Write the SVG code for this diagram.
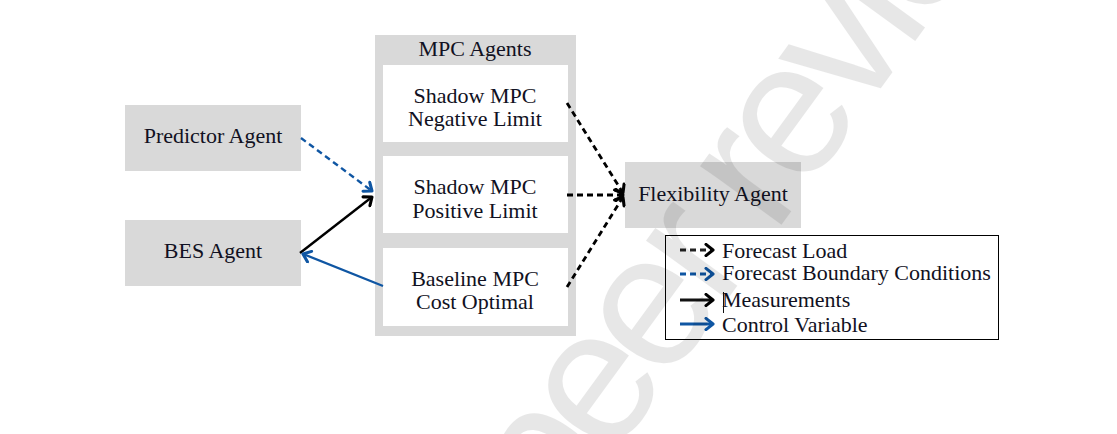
<svg xmlns="http://www.w3.org/2000/svg" width="1117" height="434" viewBox="0 0 1117 434">
  <style>
    .box { fill: #d9d9d9; }
    .inner { fill: #ffffff; }
    .lbl { font-family: "Liberation Serif", "Times New Roman", serif; font-size: 22px; fill: #111122; text-anchor: middle; }
    .leg { font-family: "Liberation Serif", "Times New Roman", serif; font-size: 22px; fill: #111122; }
    .wm { font-family: "Liberation Sans", Arial, sans-serif; font-size: 190px; letter-spacing: -12px; fill: #000000; }
    .blk { stroke: #000; fill: none; stroke-width: 2.4; }
    .blu { stroke: #0f56a3; fill: none; stroke-width: 2.4; }
    .dash { stroke-dasharray: 6 4; stroke-width: 2.8; }
  </style>
  <defs>
    <marker id="ahBlk" markerUnits="userSpaceOnUse" markerWidth="14" markerHeight="14" refX="7" refY="5" orient="auto" viewBox="0 0 10 10">
      <path d="M2,1 L7,5 L2,9" fill="none" stroke="#000" stroke-width="2.2" stroke-linecap="round" stroke-linejoin="round"/>
    </marker>
    <marker id="ahBlu" markerUnits="userSpaceOnUse" markerWidth="14" markerHeight="14" refX="7" refY="5" orient="auto" viewBox="0 0 10 10">
      <path d="M2,1 L7,5 L2,9" fill="none" stroke="#0f56a3" stroke-width="2.2" stroke-linecap="round" stroke-linejoin="round"/>
    </marker>
  </defs>

  <rect width="1117" height="434" fill="#ffffff"/>

  <g id="predictor-agent">
    <rect class="box" x="125" y="105" width="176" height="66"/>
    <text class="lbl" x="213" y="143">Predictor Agent</text>
  </g>
  <g id="bes-agent">
    <rect class="box" x="125" y="220" width="176" height="66"/>
    <text class="lbl" x="213" y="258">BES Agent</text>
  </g>
  <g id="mpc-agents">
    <rect class="box" x="375" y="35" width="201" height="301"/>
    <text class="lbl" x="475" y="56">MPC Agents</text>
  </g>
  <g id="shadow-mpc-negative">
    <rect class="inner" x="383" y="65" width="185" height="77"/>
    <text class="lbl" x="475" y="103">Shadow MPC</text>
    <text class="lbl" x="475" y="126">Negative Limit</text>
  </g>
  <g id="shadow-mpc-positive">
    <rect class="inner" x="383" y="156" width="185" height="77"/>
    <text class="lbl" x="475" y="194">Shadow MPC</text>
    <text class="lbl" x="475" y="218">Positive Limit</text>
  </g>
  <g id="baseline-mpc">
    <rect class="inner" x="383" y="248" width="185" height="78"/>
    <text class="lbl" x="475" y="286">Baseline MPC</text>
    <text class="lbl" x="475" y="309">Cost Optimal</text>
  </g>
  <g id="flexibility-agent">
    <rect class="box" x="625" y="162" width="176" height="66"/>
    <text class="lbl" x="713" y="201">Flexibility Agent</text>
  </g>

  <g id="connectors">
    <line class="blu" stroke-dasharray="6 4" x1="301" y1="138" x2="372" y2="191" marker-end="url(#ahBlu)"/>
    <line class="blk" x1="300" y1="253" x2="372" y2="197" marker-end="url(#ahBlk)"/>
    <line class="blu" x1="383" y1="286" x2="303" y2="254" marker-end="url(#ahBlu)"/>
    <line class="blk dash" x1="567" y1="103" x2="623" y2="193" marker-end="url(#ahBlk)"/>
    <line class="blk dash" x1="567" y1="195" x2="623" y2="195" style="stroke-width:3.2" marker-end="url(#ahBlk)"/>
    <line class="blk dash" x1="567" y1="287" x2="623" y2="197" marker-end="url(#ahBlk)"/>
  </g>

  <g id="legend">
    <rect x="665.5" y="235.5" width="333" height="104" fill="none" stroke="#000" stroke-width="1"/>
    <line x1="680" y1="250" x2="713" y2="250" stroke="#222" stroke-width="3.2" stroke-dasharray="6 4" marker-end="url(#ahBlk)"/>
    <line x1="680" y1="274" x2="713" y2="274" stroke="#0f56a3" stroke-width="3.2" stroke-dasharray="6 4" marker-end="url(#ahBlu)"/>
    <line x1="680" y1="300" x2="713" y2="300" stroke="#111" stroke-width="3.2" marker-end="url(#ahBlk)"/>
    <line x1="680" y1="324" x2="713" y2="324" stroke="#0f56a3" stroke-width="3.2" marker-end="url(#ahBlu)"/>
    <line x1="723.5" y1="292" x2="723.5" y2="313" stroke="#111" stroke-width="1"/>
    <text class="leg" x="722" y="258">Forecast Load</text>
    <text class="leg" x="722" y="280">Forecast Boundary Conditions</text>
    <text class="leg" x="722" y="307">Measurements</text>
    <text class="leg" x="722" y="332">Control Variable</text>
  </g>

  <g id="watermark" opacity="0.09">
    <text class="wm" x="554.5" y="537.4" transform="rotate(-54 554.5 537.4)">peer review</text>
  </g>
</svg>
